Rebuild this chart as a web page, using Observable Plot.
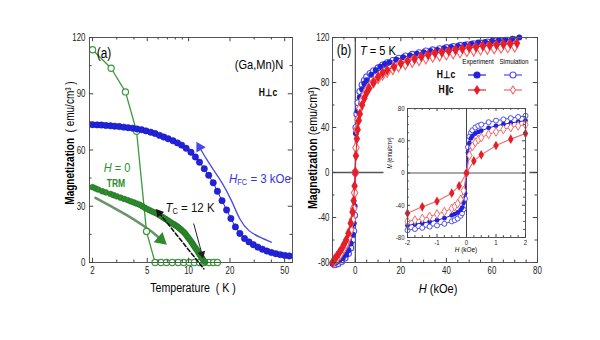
<!DOCTYPE html>
<html><head><meta charset="utf-8">
<script src="https://cdn.jsdelivr.net/npm/d3@7"></script>
<script src="https://cdn.jsdelivr.net/npm/@observablehq/plot@0.6"></script>
<style>
html,body{margin:0;padding:0;background:#fff;}
#wrap{position:relative;width:600px;height:340px;overflow:hidden;background:#fff;font-family:"Liberation Sans",Arial,sans-serif;}
.lbl{position:absolute;white-space:nowrap;line-height:1;}
.lbl sub{font-size:65%;vertical-align:-0.25em;}
</style></head><body><div id="wrap"></div>
<script>
// ---------- Panel (a): M vs T ----------
const fcT = [2.0,2.16,2.32,2.5,2.7,2.9,3.13,3.37,3.63,3.92,4.22,4.55,4.9,5.3,5.7,6.15,6.6,7.1,7.7,8.3,8.9,9.6,10.4,11.2,12.0,13.0,14.0,15.1,16.2,17.5,18.9,20.3,21.9,23.6,25.5,27.5,29.6,31.9,34.4,37.1,40,43.1,46.5,50.1,54];
const fcM = [73.5,73.4,73.3,73.1,72.9,72.7,72.5,72.2,71.9,71.6,71.2,70.8,70.2,69.5,68.8,67.8,66.9,66,64.9,63.8,62.6,60.9,58.8,56.3,53.5,50,46.5,42.5,38,33,28,23.5,19,15.5,12.8,11,9.5,8.2,7.1,6.1,5.3,4.7,4.2,3.8,3.5];
const trmT = [2.0,2.1,2.2,2.35,2.5,2.7,2.85,3.0,3.2,3.4,3.6,3.8,4.0,4.2,4.4,4.6,4.8,5.0,5.2,5.4,5.6,5.8,6.0,6.2,6.4,6.6,6.8,7.0,7.2,7.4,7.6,7.8,8.0,8.2,8.4,8.6,8.8,9.0,9.2,9.4,9.6,9.8,10.0,10.2,10.4,10.6,10.8,11.0,11.2,11.4,11.6,11.8,12.0,12.2,12.4,12.6,12.9,13.2];
const trmM = [40.2,39.5,38.9,38,37.4,36.6,35.9,35.3,34.6,33.9,33.3,32.6,32,31.4,30.8,30,29.2,28.5,27.9,27.3,26.8,26.3,25.7,25.1,24.4,23.8,23.2,22.6,22,21.4,20.9,20.4,19.9,19.4,18.8,18.2,17.6,16.9,16.3,15.6,14.7,13.8,13,12.1,11.3,10.4,9.5,8.6,7.8,7,6.2,5.3,4.4,3.6,2.8,2,1,0.3];
const openT = [2.0,2.73,3.47,4.18,4.94,5.7,6.3,6.9,7.6,8.4,9.2,10.1,11.0,12.0,13.0,14.1,15.2,16.2];
const openM = [113.5,103.6,91,70,16.5,0,0,0,0,0,0,0,0,0,0,0,0,0];
// annotation arrows (data units)
const blueArrT = [40,33,27.5,23.5,20.5,17.5,15.3,13.4,12.0];
const blueArrM = [10.8,13.5,17,23.5,33,42.5,49,55.5,61.5];
const greenArrT = [2.1,2.8,3.6,4.6,5.6,6.3];
const greenArrM = [34.5,29.5,25,20,15.5,12.2];
const dashT = [6.1,12.9], dashM = [26.5,-3.4];
const tcT = [10.9,12.5], tcM = [20.6,4.5];
const aMajorX = [2,5,10,20,50], aMinorX = [3,4,6,7,8,9,30,40];
const aMajorY = [0,30,60,90,120], aMinorY = [15,45,75,105];

// ---------- Panel (b): M vs H ----------
const bfH = [-10,-8.5,-7,-5.5,-4,-3,-2,-1.2,-0.7,-0.3,0,0.3,1,2,3,4,5,7,9,11,13,15,18,21,24,27,30,33,36,39,42,45,48,51,54,57,60,63,66,69,72];
const bfM = [-81,-80,-78,-76,-73,-69,-63,-55,-45,-30,0,35,55,67,74,79,82,87,91,94,96.5,98,100.5,102.5,104,105.5,107,108,109,110.5,111.5,112.5,113.5,114.5,115.5,116,117,117.5,118,119,120];
const boH = [-9,-7.5,-6,-4.5,-3,-2,-1.2,-0.7,-0.3,0,0.3,0.7,1.2,2,3,4,5,6.5,8,10,12,14,16.5,19,22,25,28,31,34,37,40,43,46,49,52,55,58,61,64,67,70];
const boM = [-82,-81,-79,-76,-72,-67,-60,-52,-38,0,40,52,62,72,78,82,85,88,90.5,93,95.5,97.5,99.5,101.5,103.5,105,106.5,108,109,110,111,112,113,113.5,114.5,115,116,116.5,117,117.5,118];
const rfH = [-10,-9,-8,-7,-6,-5,-4,-3,-2,-1.2,-0.7,-0.3,0,0.3,0.7,1,1.5,2,3,4,5,6,8,10,12,14,17,20,23,26,29,32,35,38,41,44,47,50,53,56,59,62,65,68,71];
const rfM = [-80,-77,-74,-71,-68,-64,-60,-54,-45,-35,-25,-12,0,15,30,38,46,52,60,66,71,75,80,85,88.5,91,94,97,99,101,103,104.5,106,107,108,109,110,111,111.5,112.5,113,113.5,114,114.5,115];
const roH = [-9.5,-8,-6.5,-5,-4,-3,-2,-1.2,-0.7,-0.3,0,0.3,0.7,1.2,2,3,4,5,6.5,8,10,12,14,16.5,19,22,25,28,31,34,37,40,43,46,49,52,55,58,61,64,67,70];
const roM = [-79,-76,-72,-67,-63,-58,-51,-42,-32,-18,0,22,38,47,57,64,69,73,77,80.5,84,87,89.5,92,94.5,96.5,98.5,100,101.5,103,104,105,106,107,108,108.5,109.5,110,110.5,111,111.5,112];
const bMajorX = [0,20,40,60,80], bMinorX = [-10,-5,5,10,15,25,30,35,45,50,55,65,70,75];
const bMajorY = [-80,-40,0,40,80,120], bMinorY = [-60,-20,20,60,100];

// ---------- Inset ----------
const ibH = [-2,-1.75,-1.5,-1.25,-1,-0.75,-0.5,-0.4,-0.3,-0.2,-0.15,-0.1,-0.05,0,0.05,0.1,0.15,0.2,0.3,0.4,0.5,0.75,1,1.25,1.5,1.75,2];
const ibfM = [-65,-63.5,-62,-60.5,-58.5,-56,-52.5,-51,-49,-46,-43,-37,-25,0,25,37,43,46,49,51,52.5,56,58.5,60.5,62,63.5,65];
const iboM = [-71,-69.5,-68,-66.5,-65,-63,-60,-58.5,-56.5,-53,-50,-45,-32,0,32,45,50,53,56.5,58.5,60,63,65,66.5,68,69.5,71];
const iroH = [-2,-1.75,-1.5,-1.25,-1,-0.75,-0.5,-0.4,-0.3,-0.2,-0.1,0,0.1,0.2,0.3,0.4,0.5,0.75,1,1.25,1.5,1.75,2];
const iroM = [-60,-58.5,-56.5,-54,-51,-48,-44,-41.5,-38,-33,-22,0,22,33,38,41.5,44,48,51,54,56.5,58.5,60];
const irfH = [-2,-1.5,-1,-0.5,-0.25,0,0.25,0.5,1,1.5,2];
const irfM = [-50,-42,-35,-25,-16,0,15,22.5,34,42,49];
const iMajorX = [-2,-1,0,1,2], iMinorX = [-1.75,-1.5,-1.25,-0.75,-0.5,-0.25,0.25,0.5,0.75,1.25,1.5,1.75];
const iMajorY = [-80,-40,0,40,80], iMinorY = [-70,-60,-50,-30,-20,-10,10,20,30,50,60,70];

const BLUE = "#2222dd", BLUE2 = "#5050ee", RED = "#e61e28", RED2 = "#f06a6a", GREEN = "#2e8b2e";
const zip = (xs, ys) => xs.map((x, i) => ({x, y: ys[i]}));
const font = '"Liberation Sans",Arial,sans-serif';
function base(ml, mr, mt, mb, fs) {
  return {width:600, height:340, marginLeft:ml, marginRight:mr, marginTop:mt, marginBottom:mb,
    style:`background:transparent;font-family:${font};font-size:${fs}px;color:#222;overflow:visible;position:absolute;left:0;top:0;`};
}
// tick labels outside, short tick marks inside the frame on all four sides
function axes(mx, nx, my, ny, pad, fw, fh, small) {
  const f = d => String(d);
  const big = small * 1.7, st = {stroke:"#444", strokeWidth:1};
  return [
    Plot.axisX({ticks: mx, tickSize: 0, tickPadding: pad[0], tickFormat: f, label: null}),
    Plot.axisY({ticks: my, tickSize: 0, tickPadding: pad[1], tickFormat: f, label: null}),
    Plot.tickX(mx, {x: d => d, insetTop: fh - big, ...st}),
    Plot.tickX(mx, {x: d => d, insetBottom: fh - big, ...st}),
    Plot.tickX(nx, {x: d => d, insetTop: fh - small, ...st}),
    Plot.tickX(nx, {x: d => d, insetBottom: fh - small, ...st}),
    Plot.tickY(my, {y: d => d, insetRight: fw - big, ...st}),
    Plot.tickY(my, {y: d => d, insetLeft: fw - big, ...st}),
    Plot.tickY(ny, {y: d => d, insetRight: fw - small, ...st}),
    Plot.tickY(ny, {y: d => d, insetLeft: fw - small, ...st})
  ];
}
// condense tick label glyphs (the figure uses a narrow face)
function condense(svg, k) {
  svg.querySelectorAll('g[aria-label$="tick label"] text').forEach(t => {
    const tr = t.getAttribute("transform") || "";
    t.setAttribute("transform", tr + ` scale(${k},1)`);
  });
  return svg;
}
const wrap = document.getElementById("wrap");

const pa = Plot.plot({
  ...base(89, 308, 37, 78, 11),
  x: {type: "log", domain: [1.9, 57]},
  y: {domain: [0, 120]},
  marks: [
    Plot.line(zip(greenArrT, greenArrM), {x:"x", y:"y", stroke:"#6a946a", strokeWidth:2.6, curve:"natural"}),
    Plot.dot([{x: greenArrT[5], y: greenArrM[5]}], {x:"x", y:"y", symbol:"triangle", r:4, fill:GREEN, stroke:GREEN, rotate:131}),
    Plot.line(zip(openT, openM), {x:"x", y:"y", stroke:"#3c9a3c", strokeWidth:1.3}),
    Plot.dot(zip(openT, openM), {x:"x", y:"y", r:3.1, fill:"white", stroke:"#3c9a3c", strokeWidth:1.2}),
    Plot.line(zip(trmT, trmM), {x:"x", y:"y", stroke:GREEN, strokeWidth:1}),
    Plot.dot(zip(trmT, trmM), {x:"x", y:"y", r:2.9, fill:GREEN, stroke:"#1f6e1f", strokeWidth:0.5}),
    Plot.line(zip(fcT, fcM), {x:"x", y:"y", stroke:BLUE, strokeWidth:1}),
    Plot.dot(zip(fcT, fcM), {x:"x", y:"y", r:3.2, fill:BLUE, stroke:"#1515b0", strokeWidth:0.5}),
    Plot.line(zip(blueArrT, blueArrM), {x:"x", y:"y", stroke:"#4848e6", strokeWidth:1.3, curve:"natural"}),
    Plot.dot([{x: blueArrT[8], y: blueArrM[8]}], {x:"x", y:"y", symbol:"triangle", r:4, fill:"#4848e6", rotate:-30}),
    Plot.line(zip(dashT, dashM), {x:"x", y:"y", stroke:"#111", strokeWidth:1.6, strokeDasharray:"4,2.5"}),
    Plot.dot([{x: dashT[0], y: dashM[0]}], {x:"x", y:"y", symbol:"triangle", r:3.2, fill:"#111", rotate:-38}),
    Plot.line(zip(tcT, tcM), {x:"x", y:"y", stroke:"#222", strokeWidth:1}),
    Plot.dot([{x: tcT[1], y: tcM[1]}], {x:"x", y:"y", symbol:"triangle", r:3, fill:"#222", rotate:165}),
    Plot.frame({stroke:"#555"}),
    ...axes(aMajorX, aMinorX, aMajorY, aMinorY, [4, 4], 203, 225, 2.5)
  ]
});
wrap.appendChild(condense(pa, 0.72));

const pb = Plot.plot({
  ...base(332, 63, 37, 78, 11),
  x: {domain: [-10, 80]},
  y: {domain: [-80, 120]},
  marks: [
    Plot.ruleY([0], {stroke:"#555", strokeWidth:1.6}),
    Plot.ruleX([0], {stroke:"#222", strokeWidth:1}),
    Plot.line(zip(boH, boM), {x:"x", y:"y", stroke:BLUE2, strokeWidth:1}),
    Plot.dot(zip(boH, boM), {x:"x", y:"y", r:3, fill:"white", stroke:BLUE2, strokeWidth:1.1}),
    Plot.line(zip(bfH, bfM), {x:"x", y:"y", stroke:BLUE, strokeWidth:1}),
    Plot.dot(zip(bfH, bfM), {x:"x", y:"y", r:3, fill:BLUE}),
    Plot.line(zip(roH, roM), {x:"x", y:"y", stroke:RED2, strokeWidth:1}),
    Plot.dot(zip(roH, roM), {x:"x", y:"y", symbol:"diamond", r:3.4, fill:"white", stroke:RED2, strokeWidth:1.1}),
    Plot.line(zip(rfH, rfM), {x:"x", y:"y", stroke:RED, strokeWidth:1}),
    Plot.dot(zip(rfH, rfM), {x:"x", y:"y", symbol:"diamond", r:3.4, fill:RED}),
    Plot.frame({stroke:"#555"}),
    ...axes(bMajorX, bMinorX, bMajorY, bMinorY, [4, 3], 205, 225, 2.5)
  ]
});
wrap.appendChild(condense(pb, 0.72));

const pin = Plot.plot({
  ...base(407, 75, 108, 103, 7.5),
  x: {domain: [-2, 2]},
  y: {domain: [-80, 80]},
  marks: [
    Plot.frame({fill:"white", stroke:"none", insetLeft:-24, insetRight:-4, insetTop:-4, insetBottom:-18}),
    Plot.ruleY([0], {stroke:"#555", strokeWidth:1.2}),
    Plot.ruleX([0], {stroke:"#444", strokeWidth:1}),
    Plot.line(zip(ibH, iboM), {x:"x", y:"y", stroke:BLUE2, strokeWidth:1}),
    Plot.dot(zip(ibH, iboM), {x:"x", y:"y", r:2.5, fill:"white", stroke:BLUE2, strokeWidth:1}),
    Plot.line(zip(ibH, ibfM), {x:"x", y:"y", stroke:BLUE, strokeWidth:1}),
    Plot.dot(zip(ibH, ibfM), {x:"x", y:"y", r:2.4, fill:BLUE}),
    Plot.line(zip(iroH, iroM), {x:"x", y:"y", stroke:RED2, strokeWidth:1}),
    Plot.dot(zip(iroH, iroM), {x:"x", y:"y", symbol:"diamond", r:2.7, fill:"white", stroke:RED2, strokeWidth:1}),
    Plot.line(zip(irfH, irfM), {x:"x", y:"y", stroke:RED2, strokeWidth:1.1}),
    Plot.dot(zip(irfH, irfM), {x:"x", y:"y", symbol:"diamond", r:2.9, fill:RED}),
    Plot.frame({stroke:"#555"}),
    ...axes(iMajorX, iMinorX, iMajorY, iMinorY, [2, 3], 118, 129, 1.8)
  ]
});
wrap.appendChild(condense(pin, 0.8));

// ---------- text overlays ----------
function lab(html, x, y, css = "", rot = 0, sx = 0.85, anchor = "middle") {
  const d = document.createElement("div");
  d.className = "lbl"; d.innerHTML = html;
  const tx = anchor === "start" ? "0" : "-50%";
  d.style.cssText = `left:${x}px;top:${y}px;transform-origin:${anchor === "start" ? "0 50%" : "50% 50%"};` +
    `transform:translate(${tx},-50%) rotate(${rot}deg) scale(${sx},1);${css}`;
  wrap.appendChild(d);
}
lab("(a)", 104, 53, "font-size:14px;");
lab("(Ga,Mn)N", 259, 64, "font-size:13px;");
lab("H⊥c", 268, 93, "font-size:10px;font-weight:bold;");
lab("<i>H</i> = 0", 117, 167, `font-size:13px;color:${GREEN};`);
lab("TRM", 116, 184, `font-size:10px;font-weight:bold;color:${GREEN};`);
lab("<i>H</i><sub>FC</sub> = 3 kOe", 229, 179, "font-size:13.5px;color:#3434e2;", 0, 0.85, "start");
lab("<i>T</i><sub>C</sub> = 12 K", 190, 208, "font-size:13.5px;color:#111;");
lab("Temperature &nbsp;( K )", 193, 288, "font-size:12.5px;");
lab("<b>Magnetization</b> &nbsp;( emu/cm³ )", 70, 143, "font-size:12.5px;", -90, 0.8);

lab("(b)", 344, 50, "font-size:14px;");
lab("<i>T</i> = 5 K", 360, 50, "font-size:13px;", 0, 0.85, "start");
lab("<i>H</i> (kOe)", 438, 288, "font-size:13px;");
lab("<b>Magnetization</b> (emu/cm³)", 313, 148, "font-size:12.5px;", -90, 0.85);

lab("Experiment", 478, 62, "font-size:8px;", 0, 0.78);
lab("Simulation", 514, 62, "font-size:8px;", 0, 0.78);
lab("H⊥c", 446, 75, "font-size:10px;font-weight:bold;");
lab("H∥c", 446, 90, "font-size:10px;font-weight:bold;");
lab("<i>H</i> (kOe)", 466, 250, "font-size:7.5px;");
lab("<i>M</i> (emu/cm³)", 390, 153, "font-size:6.5px;", -90, 0.85);

// legend swatches
function swatch(x, y, color, filled, shape) {
  const ns = "http://www.w3.org/2000/svg";
  const s = document.createElementNS(ns, "svg");
  s.setAttribute("width", 20); s.setAttribute("height", 10);
  s.style.cssText = `position:absolute;left:${x - 10}px;top:${y - 5}px;overflow:visible;`;
  const sym = shape === "diamond" ? "M0,-4L2.6,0L0,4L-2.6,0Z" : "M3,0A3,3 0 1,1 -3,0A3,3 0 1,1 3,0Z";
  s.innerHTML = `<line x1="1" x2="19" y1="5" y2="5" stroke="${color}" stroke-width="1.2"/>` +
    `<path transform="translate(10,5)" d="${sym}" fill="${filled ? color : "white"}" stroke="${color}" stroke-width="1.1"/>`;
  wrap.appendChild(s);
}
swatch(477, 75, BLUE, true, "circle");
swatch(513, 75, BLUE2, false, "circle");
swatch(477, 90, RED, true, "diamond");
swatch(513, 90, RED2, false, "diamond");
</script></body></html>
